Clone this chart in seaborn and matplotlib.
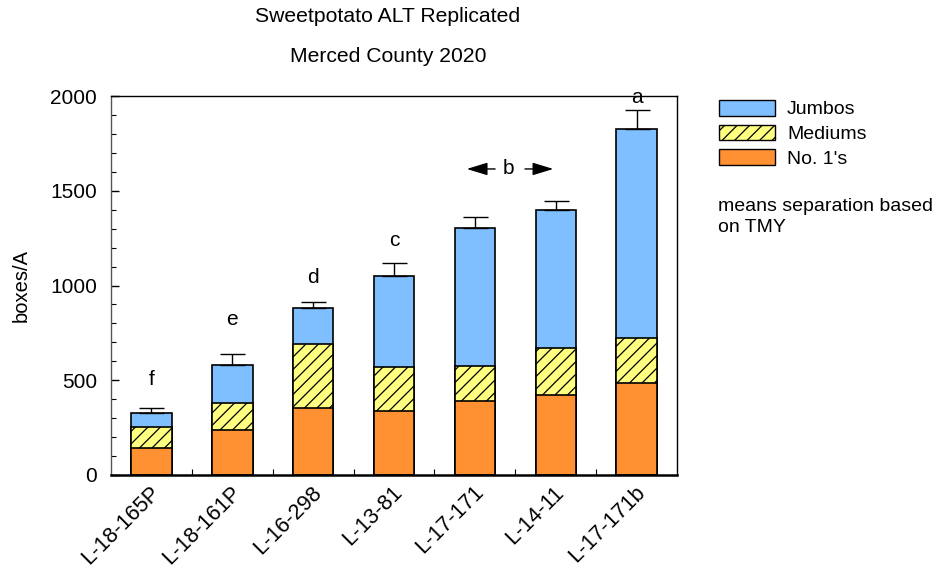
import numpy as np
import pandas as pd
import matplotlib
matplotlib.use("Agg")
import matplotlib.pyplot as plt
import matplotlib.transforms as mtransforms
from matplotlib import hatch as mhatch
from matplotlib.patches import Patch
from matplotlib.ticker import MultipleLocator, FixedLocator
import seaborn as sns

# Marketable yield by size class (boxes/A)
cultivars = ["L-18-165P", "L-18-161P", "L-16-298", "L-13-81", "L-17-171", "L-14-11", "L-17-171b"]
no1s = [144, 236, 352, 336, 390, 424, 484]
mediums = [108, 142, 341, 232, 183, 244, 237]
jumbos = [77, 201, 188, 484, 729, 732, 1107]
std_err = [26, 58, 30, 67, 61, 48, 98]

# Means separation letters and the heights where they are printed
sep_letters = ["f", "e", "d", "c", "", "", "a"]
letter_y = [505, 818, 1040, 1240, None, None, 1990]
shared_letter = "b"
shared_letter_y = 1615

series_names = ["Jumbos", "Mediums", "No. 1's"]
colors = {"Jumbos": "#80BFFF", "Mediums": "#FFFF80", "No. 1's": "#FF9133"}

df = pd.DataFrame({"cultivar": cultivars, "no1": no1s, "med": mediums, "jumbo": jumbos})
df["lvl_no1"] = df["no1"]
df["lvl_med"] = df["no1"] + df["med"]
df["lvl_total"] = df["lvl_med"] + df["jumbo"]


# A single "/" hatch with 16 diagonal lines per hatch tile instead of 6
class MediumDiagonalHatch(mhatch.NorthEastHatch):
    def __init__(self, hatch, density):
        super().__init__(hatch, density)
        self.num_lines = int(hatch.count("/") * density * 8 / 3)
        self.num_vertices = (self.num_lines + 1) * 2 if self.num_lines else 0


mhatch._hatch_types[mhatch._hatch_types.index(mhatch.NorthEastHatch)] = MediumDiagonalHatch

plt.rcParams["font.family"] = ["Liberation Sans", "DejaVu Sans"]
plt.rcParams["hatch.linewidth"] = 0.9

fig = plt.figure(figsize=(9.38, 5.71), dpi=100)
ax = fig.add_axes([111 / 938, 1 - 475 / 571, 566 / 938, 379 / 571])

bar_kw = dict(width=0.5, edgecolor="black", linewidth=1.2, errorbar=None, ax=ax, order=cultivars)
sns.barplot(data=df, x="cultivar", y="lvl_total", color=colors["Jumbos"], saturation=1, **bar_kw)
sns.barplot(data=df, x="cultivar", y="lvl_med", color=colors["Mediums"], saturation=1, hatch="/", **bar_kw)
sns.barplot(data=df, x="cultivar", y="lvl_no1", color=colors["No. 1's"], saturation=1, **bar_kw)

xpos = np.arange(len(cultivars))
ax.errorbar(xpos, df["lvl_total"], yerr=[np.zeros(len(std_err)), std_err], fmt="none",
            ecolor="black", elinewidth=1.0, capsize=9, capthick=1.0, zorder=1)

for x, lab, ly in zip(xpos, sep_letters, letter_y):
    if lab:
        ax.text(x, ly, lab, ha="center", va="center", fontsize=15)
b_x = 4.42
ax.text(b_x, shared_letter_y, shared_letter, ha="center", va="center", fontsize=15)
arrow_kw = dict(arrowstyle="-|>,head_length=0.85,head_width=0.26", color="black", lw=1.0,
                shrinkA=0, shrinkB=0, mutation_scale=15)
ax.annotate("", xy=(3.90, shared_letter_y), xytext=(4.25, shared_letter_y), arrowprops=arrow_kw)
ax.annotate("", xy=(4.97, shared_letter_y), xytext=(4.62, shared_letter_y), arrowprops=arrow_kw)

ax.set_xlim(-0.5, len(cultivars) - 0.5)
ax.set_ylim(0, 2000)
ax.yaxis.set_major_locator(MultipleLocator(500))
ax.yaxis.set_minor_locator(MultipleLocator(100))
ax.xaxis.set_minor_locator(FixedLocator(np.arange(0.5, len(cultivars) - 1, 1.0)))
ax.tick_params(axis="y", which="major", direction="in", length=6, width=1, labelsize=15, pad=10)
ax.tick_params(axis="y", which="minor", direction="in", length=3.5, width=0.8)
ax.tick_params(axis="x", which="major", length=0, labelsize=15.6, pad=2)
ax.tick_params(axis="x", which="minor", direction="in", length=4, width=0.8)

ax.set_xticks(xpos)
ax.set_xticklabels(cultivars, rotation=45, ha="right", va="top", rotation_mode="anchor")
offset = mtransforms.ScaledTranslation(-2 / 100, -4 / 100, fig.dpi_scale_trans)
for lbl in ax.get_xticklabels():
    lbl.set_transform(lbl.get_transform() + offset)

ax.set_xlabel("")
ax.set_ylabel("boxes/A", fontsize=14.5, labelpad=14)
for side in ["top", "right", "left"]:
    ax.spines[side].set_linewidth(1.0)
ax.spines["left"].set_color("#555555")
ax.spines["bottom"].set_linewidth(1.8)

fig.text(388 / 938, 1 - 17 / 571, "Sweetpotato ALT Replicated", ha="center", va="center", fontsize=15.2)
fig.text(388 / 938, 1 - 57 / 571, "Merced County 2020", ha="center", va="center", fontsize=15.2)

handles = [
    Patch(facecolor=colors["Jumbos"], edgecolor="black", linewidth=1.0),
    Patch(facecolor=colors["Mediums"], edgecolor="black", linewidth=1.0, hatch="/"),
    Patch(facecolor=colors["No. 1's"], edgecolor="black", linewidth=1.0),
]
fig.legend(handles, series_names, loc="upper left", bbox_to_anchor=(719 / 938, 1 - 100 / 571),
           frameon=False, fontsize=14, handlelength=2.9, handleheight=0.85, handletextpad=0.6,
           labelspacing=0.32, borderpad=0, borderaxespad=0)
fig.text(718 / 938, 1 - 217 / 571, "means separation based\non TMY", ha="left", va="center",
         fontsize=14, linespacing=1.32)

fig.savefig("out.png", dpi=100)
